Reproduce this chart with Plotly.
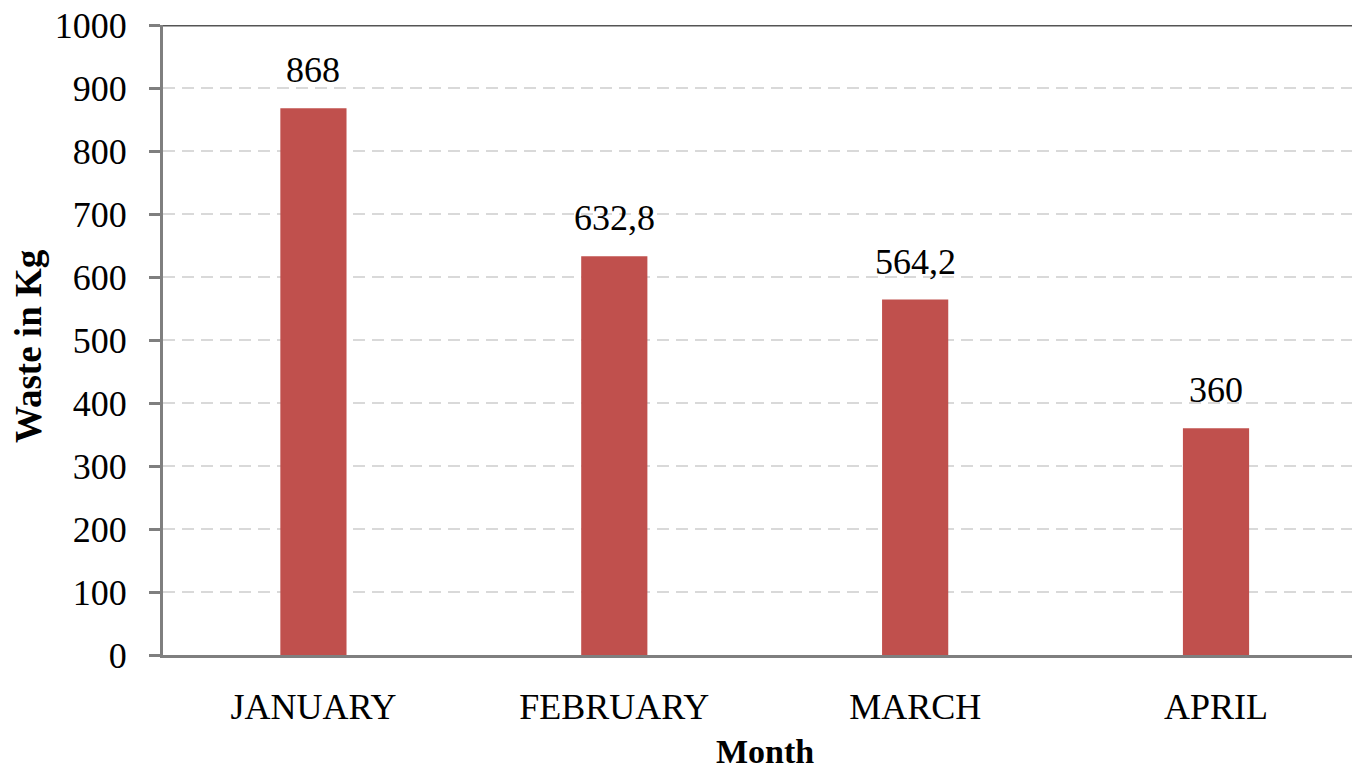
import plotly.graph_objects as go

months = ["JANUARY", "FEBRUARY", "MARCH", "APRIL"]
waste_kg = [868, 632.8, 564.2, 360]
value_labels = ["868", "632,8", "564,2", "360"]
y_ticks = [0, 100, 200, 300, 400, 500, 600, 700, 800, 900, 1000]

FONT = "Liberation Serif"
BAR_COLOR = "#C0504D"
AXIS_COLOR = "#7f7f7f"

W, H = 1352, 773
L, T = 163, 25
B = H - 655

fig = go.Figure()
fig.add_trace(go.Bar(
    x=months,
    y=waste_kg,
    marker=dict(color=BAR_COLOR, line=dict(width=0)),
    width=0.22,
    cliponaxis=False,
))

for m, v, lab in zip(months, waste_kg, value_labels):
    fig.add_annotation(
        x=m, y=v, text=lab, showarrow=False,
        xanchor="center", yanchor="bottom", yshift=16,
        font=dict(family=FONT, size=36, color="#000000"),
    )

fig.update_layout(
    width=W,
    height=H,
    margin=dict(l=L, r=0, t=T, b=B),
    paper_bgcolor="white",
    plot_bgcolor="white",
    showlegend=False,
    font=dict(family=FONT, color="#000000"),
)

fig.update_xaxes(
    range=[-0.5, 3.452],
    showline=True,
    linecolor=AXIS_COLOR,
    linewidth=3,
    showgrid=False,
    ticks="",
    tickfont=dict(family=FONT, size=36, color="#000000"),
    ticklabelstandoff=18,
)

fig.update_yaxes(
    range=[0, 1000],
    tickvals=y_ticks,
    ticktext=[str(v) for v in y_ticks],
    showline=True,
    linecolor=AXIS_COLOR,
    linewidth=3,
    ticks="outside",
    ticklen=11,
    tickwidth=3,
    tickcolor=AXIS_COLOR,
    showgrid=True,
    gridcolor="#d9d9d9",
    gridwidth=2,
    griddash="12px,7px",
    zeroline=False,
    tickfont=dict(family=FONT, size=36, color="#000000"),
    ticklabelstandoff=15,
    ticklabeloverflow="allow",
)

# solid top border at the maximum of the value axis
fig.add_shape(
    type="line", xref="paper", yref="y", x0=0, x1=1, y0=y_ticks[-1], y1=y_ticks[-1],
    line=dict(color="#555555", width=3), layer="above",
)

plot_w = W - L
plot_h = H - T - B
fig.add_annotation(
    text="<b>Month</b>", xref="paper", yref="paper",
    x=(765 - L) / plot_w, y=-(772 - 655) / plot_h,
    xanchor="center", yanchor="bottom", showarrow=False,
    font=dict(family=FONT, size=34, color="#000000"),
)
fig.add_annotation(
    text="<b>Waste in Kg</b>", xref="paper", yref="paper",
    x=-(L - 28) / plot_w, y=(655 - 346) / plot_h,
    xanchor="center", yanchor="middle", showarrow=False, textangle=-90,
    font=dict(family=FONT, size=37, color="#000000"),
)

fig.write_html(
    "out.html",
    config={"displayModeBar": False},
    post_script=(
        "document.documentElement.style.margin='0';"
        "document.documentElement.style.padding='0';"
        "document.documentElement.style.overflow='hidden';"
        "document.body.style.margin='0';"
        "document.body.style.padding='0';"
        "document.body.style.overflow='hidden';"
        "window.scrollTo(0,0);"
    ),
)
